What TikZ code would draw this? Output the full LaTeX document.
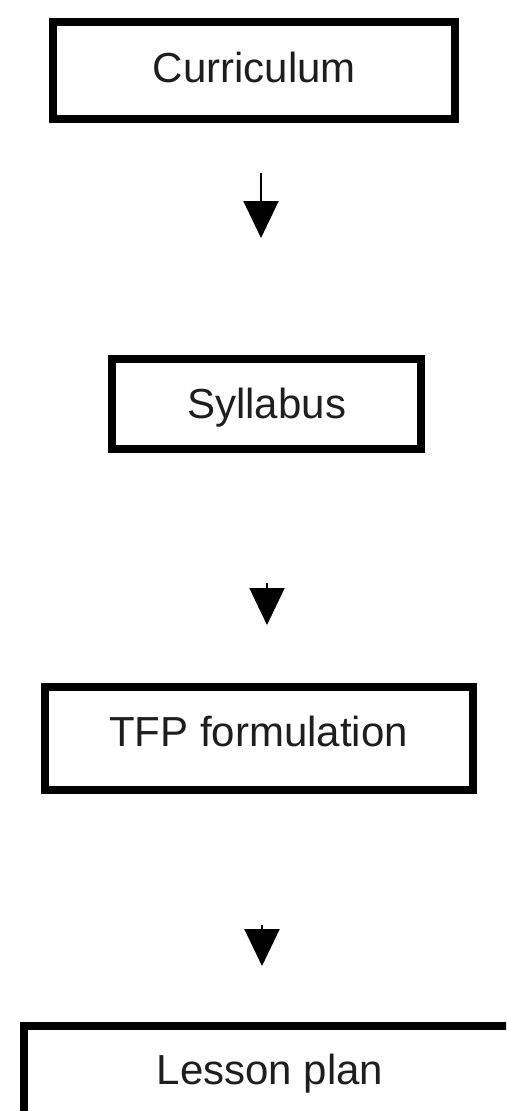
\documentclass[tikz,border=0pt]{standalone}
\usepackage{fontspec}
\setmainfont{Liberation Sans}
\usetikzlibrary{arrows.meta}
\definecolor{inkc}{HTML}{1E1E1E}
\tikzset{
  flowbox/.style={draw=black, line width=8pt, inner sep=0pt, text=inkc,
    font=\fontsize{42pt}{50pt}\selectfont, text height=30pt},
  flowarrow/.style={line width=2pt, -{Triangle[length=37pt,width=35pt]}}
}
\begin{document}
\begin{tikzpicture}[x=1pt,y=-1pt]
\clip (0,0) rectangle (506,1111);
\fill[white] (0,0) rectangle (506,1111);
\node[flowbox, minimum width=402pt, minimum height=96.4pt, text depth=6pt] (cur) at (254.3,70.5) {Curriculum};
\node[flowbox, minimum width=308.7pt, minimum height=90.3pt, text depth=2pt] (syl) at (266.7,404.2) {Syllabus};
\node[flowbox, minimum width=428pt, minimum height=102.7pt, text depth=15pt] (tfp) at (258.7,738.7) {TFP formulation};
\node[flowbox, minimum width=492pt, minimum height=130pt, text depth=43.4pt] (les) at (270,1090.7) {Lesson plan};
\coordinate (a1s) at (261,173);
\coordinate (a1e) at (261,238);
\coordinate (a2s) at (267,583);
\coordinate (a2e) at (267,625);
\coordinate (a3s) at (262,925);
\coordinate (a3e) at (262,966);
\draw[flowarrow] (a1s) -- (a1e);
\draw[flowarrow] (a2s) -- (a2e);
\draw[flowarrow] (a3s) -- (a3e);
\end{tikzpicture}
\end{document}
